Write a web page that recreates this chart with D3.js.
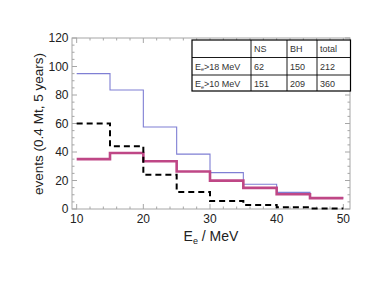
<!DOCTYPE html>
<html>
<head>
<meta charset="utf-8">
<script src="https://cdn.jsdelivr.net/npm/d3@7"></script>
<style>
  body { margin: 0; background: #fff; }
  svg { display: block; font-family: "Liberation Sans", Arial, Helvetica, sans-serif; }
</style>
</head>
<body>
<svg id="chart" width="374" height="289"></svg>
<script>
// bin edges in MeV
const binEdges = [10, 15, 20, 25, 30, 35, 40, 45, 50];
// events per bin (0.4 Mt, 5 years)
const totalEvents = [95, 83.5, 57.5, 38.5, 25.5, 17.4, 11.7, 7.8];
const bhEvents = [35, 39.3, 33.5, 26.3, 19.9, 14.8, 10.4, 7.6];
const nsEvents = [60, 44, 24, 12, 5.6, 2.8, 1.2, 0.3];

const xTicks = [10, 20, 30, 40, 50];
const yTicks = [0, 20, 40, 60, 80, 100, 120];

// inset table
const tableHead = ['', 'NS', 'BH', 'total'];
const tableRows = [
  ['18', '62', '150', '212'],
  ['10', '151', '209', '360']
];

const svg = d3.select('#chart');

const x = d3.scaleLinear().domain([9.3, 51]).range([72, 350]);
const y = d3.scaleLinear().domain([0, 120]).range([209, 38]);

// frame
const frame = svg.append('g').attr('stroke', '#a6a6a6').attr('stroke-width', 1).attr('fill', 'none');
frame.append('rect')
  .attr('x', x.range()[0]).attr('y', y.range()[1])
  .attr('width', x.range()[1] - x.range()[0])
  .attr('height', y.range()[0] - y.range()[1]);

// ticks, inward, on all four sides
const xMinor = d3.range(10, 51, 2);
const yMinor = d3.range(0, 121, 5);
xMinor.forEach(v => {
  const len = v % 10 === 0 ? 5 : 2.5;
  frame.append('line').attr('x1', x(v)).attr('x2', x(v)).attr('y1', y(0)).attr('y2', y(0) - len);
  frame.append('line').attr('x1', x(v)).attr('x2', x(v)).attr('y1', y(120)).attr('y2', y(120) + len);
});
yMinor.forEach(v => {
  const len = v % 20 === 0 ? 5 : 2.5;
  frame.append('line').attr('x1', x.range()[0]).attr('x2', x.range()[0] + len).attr('y1', y(v)).attr('y2', y(v));
  frame.append('line').attr('x1', x.range()[1]).attr('x2', x.range()[1] - len).attr('y1', y(v)).attr('y2', y(v));
});

// tick labels
svg.append('g').selectAll('text').data(xTicks).join('text')
  .attr('x', d => x(d)).attr('y', 222.5)
  .attr('text-anchor', 'middle').attr('font-size', 12).attr('fill', '#222')
  .text(d => d);
svg.append('g').selectAll('text').data(yTicks).join('text')
  .attr('x', 68.5).attr('y', d => y(d) + 4.3)
  .attr('text-anchor', 'end').attr('font-size', 12).attr('fill', '#222')
  .text(d => d);

// axis labels
const xl = svg.append('text')
  .attr('x', 211).attr('y', 241)
  .attr('text-anchor', 'middle').attr('font-size', 14).attr('fill', '#222');
xl.append('tspan').text('E');
xl.append('tspan').attr('font-size', 9).attr('dy', 2.5).text('e');
xl.append('tspan').attr('dy', -2.5).text(' / MeV');

svg.append('text')
  .attr('transform', 'translate(43,124) rotate(-90)')
  .attr('text-anchor', 'middle').attr('font-size', 13.5).attr('fill', '#222')
  .text('events (0.4 Mt, 5 years)');

// step histograms
const step = d3.line()
  .x(d => x(d[0]))
  .y(d => y(d[1]))
  .curve(d3.curveStepAfter);
const toSteps = vals => binEdges.map((e, i) => [e, vals[Math.min(i, vals.length - 1)]]);

svg.append('path').datum(toSteps(totalEvents))
  .attr('d', step).attr('fill', 'none')
  .attr('stroke', '#7f7fd4').attr('stroke-width', 1.1);
svg.append('path').datum(toSteps(bhEvents))
  .attr('d', step).attr('fill', 'none')
  .attr('stroke', '#bf4786').attr('stroke-width', 2.6);
svg.append('path').datum(toSteps(nsEvents))
  .attr('d', step).attr('fill', 'none')
  .attr('stroke', '#000').attr('stroke-width', 2)
  .attr('stroke-dasharray', '6,4');

// inset table
const colX = [192, 251, 287, 317, 350.5];
const rowY = [40, 57.5, 75, 91];
const tbl = svg.append('g');
tbl.append('rect').attr('x', colX[0]).attr('y', rowY[0])
  .attr('width', colX[4] - colX[0]).attr('height', rowY[3] - rowY[0])
  .attr('fill', '#fff').attr('stroke', '#000').attr('stroke-width', 1.2);
colX.slice(1, 4).forEach(cx => {
  tbl.append('line').attr('x1', cx).attr('x2', cx).attr('y1', rowY[0]).attr('y2', rowY[3])
    .attr('stroke', '#000').attr('stroke-width', 0.9);
});
rowY.slice(1, 3).forEach(ry => {
  tbl.append('line').attr('x1', colX[0]).attr('x2', colX[4]).attr('y1', ry).attr('y2', ry)
    .attr('stroke', '#000').attr('stroke-width', 0.9);
});
tableHead.forEach((h, i) => {
  if (!h) return;
  tbl.append('text').attr('x', colX[i] + 3).attr('y', rowY[0] + 12)
    .attr('font-size', 9).attr('fill', '#333').text(h);
});
tableRows.forEach((r, ri) => {
  const ty = rowY[ri + 1] + 12;
  const lab = tbl.append('text').attr('x', colX[0] + 3).attr('y', ty)
    .attr('font-size', 9).attr('fill', '#333');
  lab.append('tspan').text('E');
  lab.append('tspan').attr('font-size', 5.5).attr('dy', 1.8).text('e');
  lab.append('tspan').attr('dy', -1.8).text('>' + r[0] + ' MeV');
  r.slice(1).forEach((v, ci) => {
    tbl.append('text').attr('x', colX[ci + 1] + 3).attr('y', ty)
      .attr('font-size', 9).attr('fill', '#333').text(v);
  });
});
</script>
</body>
</html>
